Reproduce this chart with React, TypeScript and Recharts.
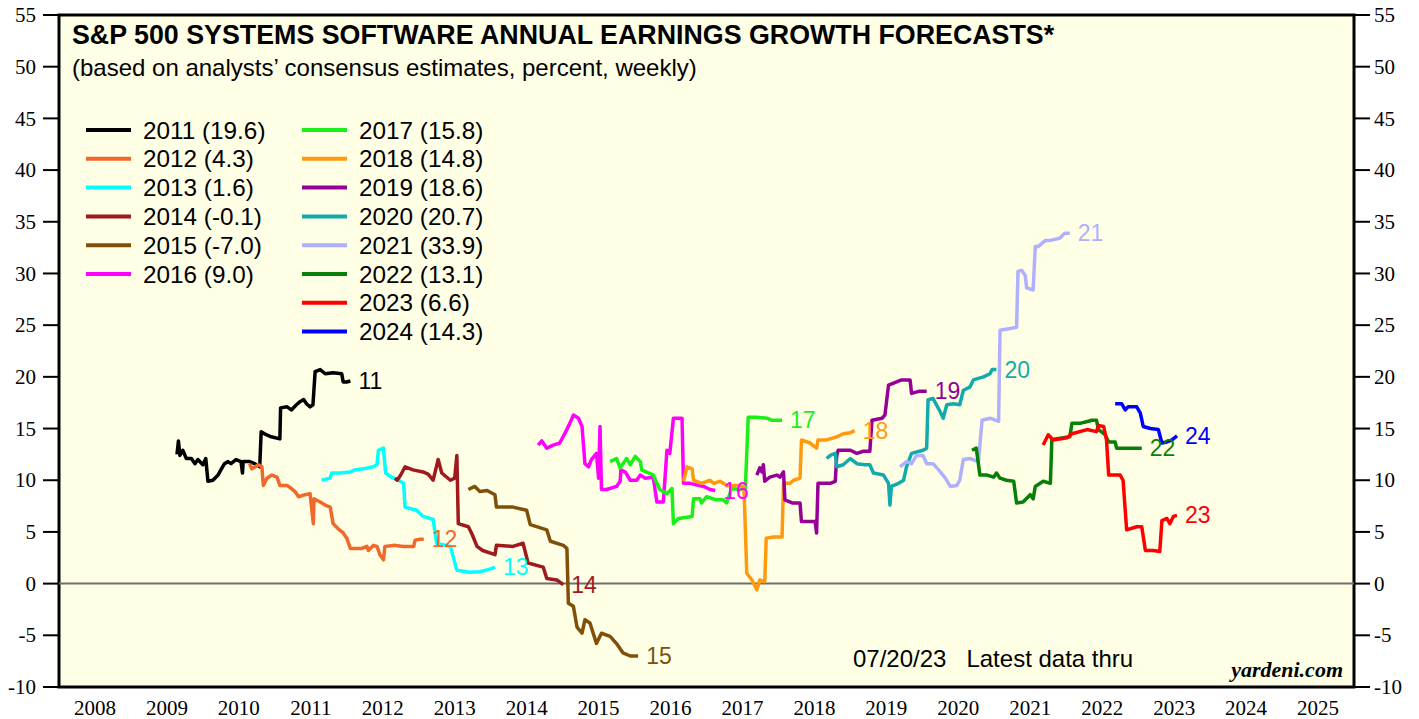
import React from 'react';
import {
  LineChart,
  Line,
  XAxis,
  YAxis,
  CartesianGrid,
  ReferenceLine,
  ReferenceArea,
} from 'recharts';

// weekly consensus growth forecasts, [decimal year, percent]
const s2011: [number, number][] = [
  [2009.64, 12.5], [2009.66, 13.8], [2009.68, 12.4], [2009.72, 12.9], [2009.77, 12.1], [2009.84, 12.1],
  [2009.89, 11.6], [2009.93, 12.0], [2010.0, 11.5], [2010.04, 12.1], [2010.07, 9.9], [2010.14, 10.0],
  [2010.21, 10.5], [2010.25, 11.0], [2010.3, 11.6], [2010.35, 11.8], [2010.39, 11.6], [2010.46, 12.0],
  [2010.53, 11.8], [2010.55, 10.7], [2010.56, 11.8], [2010.65, 11.8], [2010.72, 11.6], [2010.79, 11.3],
  [2010.81, 14.7], [2010.88, 14.4], [2010.95, 14.2], [2011.07, 14.0], [2011.08, 17.0], [2011.17, 17.1],
  [2011.23, 16.8], [2011.3, 17.3], [2011.35, 17.6], [2011.4, 17.8], [2011.44, 17.4], [2011.49, 17.1],
  [2011.53, 17.3], [2011.56, 20.5], [2011.63, 20.7], [2011.7, 20.3], [2011.81, 20.4], [2011.93, 20.3],
  [2011.95, 19.5], [2012.0, 19.5], [2012.05, 19.6],
];

const s2012: [number, number][] = [
  [2010.65, 11.6], [2010.68, 11.1], [2010.77, 11.5], [2010.82, 11.3], [2010.84, 9.5], [2010.89, 10.2],
  [2010.96, 10.5], [2011.03, 10.3], [2011.07, 9.5], [2011.17, 9.5], [2011.23, 9.2], [2011.28, 8.9],
  [2011.33, 8.4], [2011.42, 8.6], [2011.49, 8.7], [2011.535, 5.8], [2011.545, 8.2], [2011.63, 7.9],
  [2011.7, 7.6], [2011.77, 7.4], [2011.81, 5.8], [2011.88, 5.3], [2011.95, 4.9], [2012.0, 4.4],
  [2012.05, 3.4], [2012.11, 3.4], [2012.21, 3.4], [2012.28, 3.6], [2012.3, 3.2], [2012.37, 3.7],
  [2012.42, 3.6], [2012.46, 2.8], [2012.51, 2.3], [2012.53, 3.6], [2012.65, 3.7], [2012.79, 3.6],
  [2012.93, 3.6], [2012.95, 4.2], [2013.02, 4.3], [2013.07, 4.3],
];

const s2013: [number, number][] = [
  [2011.65, 10.0], [2011.77, 10.2], [2011.79, 10.7], [2011.91, 10.7], [2012.05, 10.8], [2012.11, 11.0],
  [2012.23, 11.1], [2012.37, 11.3], [2012.42, 11.5], [2012.44, 12.9], [2012.51, 13.1], [2012.54, 10.7],
  [2012.62, 10.3], [2012.72, 10.0], [2012.79, 9.7], [2012.81, 7.4], [2012.97, 7.1], [2013.06, 6.5],
  [2013.2, 6.2], [2013.25, 3.9], [2013.44, 3.6], [2013.53, 1.3], [2013.71, 1.1], [2013.85, 1.15],
  [2013.99, 1.4], [2014.06, 1.6],
];

const s2014: [number, number][] = [
  [2012.67, 10.2], [2012.7, 10.0], [2012.75, 10.5], [2012.81, 11.3], [2012.92, 11.0], [2013.06, 10.8],
  [2013.13, 10.6], [2013.2, 10.0], [2013.27, 12.0], [2013.32, 10.7], [2013.44, 10.0], [2013.5, 10.2],
  [2013.53, 12.4], [2013.55, 5.8], [2013.69, 5.5], [2013.74, 4.8], [2013.81, 3.6], [2013.89, 3.2],
  [2014.06, 2.8], [2014.08, 3.7], [2014.31, 3.6], [2014.45, 3.9], [2014.52, 2.0], [2014.73, 1.6],
  [2014.78, 0.5], [2014.92, 0.35], [2015.01, -0.1],
];

const s2015: [number, number][] = [
  [2013.69, 9.1], [2013.78, 9.4], [2013.85, 8.9], [2013.95, 9.0], [2014.06, 8.6], [2014.08, 7.4],
  [2014.31, 7.4], [2014.5, 7.1], [2014.55, 5.7], [2014.78, 5.2], [2014.83, 4.1], [2015.01, 3.7],
  [2015.06, 3.4], [2015.08, -1.9], [2015.15, -2.2], [2015.2, -4.2], [2015.27, -4.8], [2015.31, -3.5],
  [2015.38, -3.8], [2015.47, -5.8], [2015.54, -4.8], [2015.66, -5.1], [2015.75, -5.8], [2015.84, -6.7],
  [2015.94, -7.0], [2016.05, -7.0],
];

const s2016: [number, number][] = [
  [2014.66, 13.4], [2014.71, 13.8], [2014.78, 13.1], [2014.87, 13.4], [2014.96, 13.6], [2015.03, 14.5],
  [2015.1, 15.5], [2015.15, 16.3], [2015.22, 16.0], [2015.27, 15.2], [2015.31, 11.6], [2015.36, 11.3],
  [2015.4, 12.0], [2015.47, 12.6], [2015.5, 10.2], [2015.52, 15.2], [2015.54, 9.1], [2015.61, 9.1],
  [2015.75, 9.4], [2015.8, 9.9], [2015.81, 11.0], [2015.87, 10.8], [2015.94, 10.0], [2016.03, 10.0],
  [2016.08, 10.5], [2016.15, 10.2], [2016.26, 10.3], [2016.31, 7.9], [2016.4, 7.9], [2016.45, 12.9],
  [2016.49, 12.6], [2016.54, 16.0], [2016.66, 16.0], [2016.68, 9.7], [2016.77, 9.7], [2016.96, 9.4],
  [2017.05, 9.1], [2017.12, 9.0],
];

const s2017: [number, number][] = [
  [2015.66, 11.8], [2015.75, 12.1], [2015.8, 11.2], [2015.89, 12.1], [2015.94, 11.5], [2016.01, 12.3],
  [2016.08, 11.8], [2016.1, 11.0], [2016.26, 10.5], [2016.35, 9.1], [2016.45, 8.7], [2016.52, 9.2],
  [2016.54, 5.8], [2016.61, 6.3], [2016.8, 6.5], [2016.82, 8.2], [2016.91, 8.2], [2016.93, 7.8],
  [2017.0, 8.4], [2017.14, 8.1], [2017.23, 8.1], [2017.28, 7.8], [2017.35, 9.2], [2017.47, 9.1],
  [2017.54, 9.2], [2017.58, 16.1], [2017.7, 16.1], [2017.84, 16.0], [2017.91, 15.8], [2018.05, 15.8],
];

const s2018: [number, number][] = [
  [2016.68, 9.9], [2016.73, 11.3], [2016.8, 11.1], [2016.82, 10.0], [2016.93, 9.7], [2017.05, 10.0],
  [2017.1, 9.7], [2017.19, 9.9], [2017.28, 9.5], [2017.42, 9.5], [2017.52, 9.4], [2017.56, 1.0],
  [2017.63, 0.35], [2017.7, -0.6], [2017.74, 0.35], [2017.81, 0.2], [2017.83, 4.4], [2017.93, 4.5],
  [2018.05, 4.5], [2018.07, 9.7], [2018.16, 9.7], [2018.21, 10.0], [2018.3, 10.2], [2018.32, 13.9],
  [2018.44, 13.6], [2018.53, 13.1], [2018.55, 13.9], [2018.67, 13.9], [2018.81, 14.2], [2018.9, 14.5],
  [2019.0, 14.6], [2019.06, 14.8],
];

const s2019: [number, number][] = [
  [2017.7, 10.5], [2017.74, 11.2], [2017.77, 10.8], [2017.79, 11.5], [2017.81, 9.9], [2017.88, 10.3],
  [2017.98, 10.5], [2018.02, 10.3], [2018.07, 10.8], [2018.09, 8.1], [2018.19, 7.8], [2018.3, 7.8],
  [2018.32, 6.0], [2018.51, 6.0], [2018.53, 4.9], [2018.55, 9.7], [2018.72, 9.7], [2018.79, 9.9],
  [2018.81, 12.4], [2018.83, 12.9], [2019.0, 12.9], [2019.09, 12.6], [2019.18, 12.8], [2019.27, 12.8],
  [2019.3, 15.8], [2019.44, 16.0], [2019.48, 16.3], [2019.53, 19.2], [2019.6, 19.4], [2019.71, 19.7],
  [2019.83, 19.7], [2019.85, 18.4], [2019.95, 18.6], [2020.06, 18.6],
];

const s2020: [number, number][] = [
  [2018.67, 12.1], [2018.72, 12.4], [2018.79, 12.6], [2018.81, 11.3], [2018.9, 11.5], [2019.0, 12.1],
  [2019.09, 11.6], [2019.2, 11.5], [2019.27, 11.5], [2019.32, 10.7], [2019.46, 10.5], [2019.53, 9.7],
  [2019.55, 7.6], [2019.57, 9.4], [2019.67, 9.7], [2019.74, 10.0], [2019.78, 11.3], [2019.85, 12.6],
  [2020.01, 12.9], [2020.06, 13.1], [2020.08, 17.8], [2020.15, 17.9], [2020.25, 16.6], [2020.29, 16.0],
  [2020.34, 17.3], [2020.43, 17.4], [2020.52, 17.3], [2020.57, 18.7], [2020.66, 19.0], [2020.71, 19.7],
  [2020.85, 20.0], [2020.94, 20.3], [2020.97, 20.7], [2021.03, 20.7],
];

const s2021: [number, number][] = [
  [2019.69, 11.3], [2019.78, 11.8], [2019.85, 11.6], [2019.92, 12.4], [2020.01, 12.4], [2020.06, 11.6],
  [2020.15, 11.6], [2020.25, 10.8], [2020.32, 10.2], [2020.39, 9.4], [2020.48, 9.5], [2020.52, 10.0],
  [2020.57, 12.0], [2020.66, 12.1], [2020.78, 11.8], [2020.83, 15.8], [2020.94, 16.0], [2021.06, 15.7],
  [2021.08, 24.5], [2021.24, 24.7], [2021.31, 24.8], [2021.33, 30.2], [2021.38, 30.3], [2021.43, 29.8],
  [2021.45, 28.6], [2021.54, 28.4], [2021.57, 32.6], [2021.61, 32.6], [2021.71, 33.2], [2021.78, 33.2],
  [2021.91, 33.4], [2021.98, 33.9], [2022.05, 33.9],
];

const s2022: [number, number][] = [
  [2020.69, 12.9], [2020.75, 13.1], [2020.8, 10.5], [2020.9, 10.5], [2020.99, 10.3], [2021.03, 10.7],
  [2021.08, 10.2], [2021.17, 10.0], [2021.27, 9.9], [2021.31, 7.8], [2021.4, 7.9], [2021.5, 8.6],
  [2021.54, 8.2], [2021.57, 9.4], [2021.68, 9.9], [2021.78, 9.7], [2021.8, 13.9], [2021.85, 14.0],
  [2022.05, 14.2], [2022.08, 15.5], [2022.19, 15.5], [2022.31, 15.7], [2022.35, 15.8], [2022.42, 15.8],
  [2022.45, 14.9], [2022.54, 14.4], [2022.59, 13.7], [2022.68, 13.7], [2022.7, 13.1], [2022.84, 13.1],
  [2023.05, 13.1],
];

const s2023: [number, number][] = [
  [2021.68, 13.4], [2021.75, 14.4], [2021.82, 13.9], [2022.01, 14.1], [2022.08, 14.5], [2022.29, 14.9],
  [2022.42, 14.7], [2022.45, 15.3], [2022.52, 15.2], [2022.56, 13.9], [2022.59, 10.5], [2022.75, 10.5],
  [2022.79, 10.0], [2022.84, 5.2], [2022.98, 5.5], [2023.05, 5.5], [2023.1, 3.2], [2023.21, 3.2],
  [2023.3, 3.1], [2023.33, 6.1], [2023.4, 6.3], [2023.44, 5.8], [2023.49, 6.5], [2023.54, 6.6],
];

const s2024: [number, number][] = [
  [2022.68, 17.4], [2022.77, 17.4], [2022.82, 16.8], [2022.86, 17.1], [2022.98, 17.1], [2023.03, 16.5],
  [2023.07, 15.2], [2023.17, 15.0], [2023.28, 14.9], [2023.33, 13.6], [2023.4, 13.7], [2023.47, 13.9],
  [2023.54, 14.3],
];

const yearTicks = [2008, 2009, 2010, 2011, 2012, 2013, 2014, 2015, 2016, 2017, 2018, 2019, 2020, 2021, 2022, 2023, 2024, 2025, 2026];
const yearLabelTicks = yearTicks.slice(0, -1).map((y) => y + 0.5);
const valueTicks = [-10, -5, 0, 5, 10, 15, 20, 25, 30, 35, 40, 45, 50, 55];

const SERIES = [
  { name: '2011', tag: '11', color: '#000000', data: s2011 },
  { name: '2012', tag: '12', color: '#F0692A', data: s2012 },
  { name: '2013', tag: '13', color: '#00FFFF', data: s2013 },
  { name: '2014', tag: '14', color: '#A0191E', data: s2014 },
  { name: '2015', tag: '15', color: '#80500A', data: s2015 },
  { name: '2016', tag: '16', color: '#FF00FF', data: s2016 },
  { name: '2017', tag: '17', color: '#19F019', data: s2017 },
  { name: '2018', tag: '18', color: '#FF9A0F', data: s2018 },
  { name: '2019', tag: '19', color: '#960096', data: s2019 },
  { name: '2020', tag: '20', color: '#12AAAA', data: s2020 },
  { name: '2021', tag: '21', color: '#B0B0FF', data: s2021 },
  { name: '2022', tag: '22', color: '#087F08', data: s2022 },
  { name: '2023', tag: '23', color: '#FF0000', data: s2023 },
  { name: '2024', tag: '24', color: '#0000FF', data: s2024 },
];

const SANS = '"Liberation Sans", Arial, Helvetica, sans-serif';
const SERIF = '"Liberation Serif", "Times New Roman", serif';

const W = 1419;
const H = 719;

const endLabel = (s: (typeof SERIES)[number]) => (props: any) => {
  const { cx, cy, index } = props;
  if (index !== s.data.length - 1) return <g key={`d-${s.name}-${index}`} />;
  return (
    <text key={`d-${s.name}-${index}`} x={cx + 8} y={cy + 8} fill={s.color} fontSize={23} fontFamily={SANS}>
      {s.tag}
    </text>
  );
};

const LeftTick = (props: any) => (
  <text x={props.x} y={props.y} dy="0.34em" textAnchor="end" fontSize={21} fontFamily={SERIF} fill="#000">
    {props.payload.value}
  </text>
);

const RightTick = (props: any) => (
  <text x={props.x} y={props.y} dy="0.34em" textAnchor="start" fontSize={21} fontFamily={SERIF} fill="#000">
    {props.payload.value}
  </text>
);

const YearTick = (props: any) => (
  <text x={props.x} y={props.y} dy="0.7em" textAnchor="middle" fontSize={21} fontFamily={SERIF} fill="#000">
    {Math.floor(props.payload.value)}
  </text>
);

const Legend: React.FC = () => {
  const rowH = 28.8;
  return (
    <g>
      {SERIES.map((s, i) => {
        const col = i < 6 ? 0 : 1;
        const row = col === 0 ? i : i - 6;
        const lx = col === 0 ? 86 : 302;
        const y = 130 + row * rowH;
        const last = s.data[s.data.length - 1][1];
        return (
          <g key={s.name}>
            <line x1={lx} x2={lx + 45} y1={y} y2={y} stroke={s.color} strokeWidth={4} />
            <text x={lx + 57} y={y + 8.5} fontSize={24.3} fontFamily={SANS} fill="#000">
              {`${s.name} (${last.toFixed(1)})`}
            </text>
          </g>
        );
      })}
    </g>
  );
};

const App: React.FC = () => {
  return (
    <div style={{ position: 'absolute', left: 0, top: 0, width: W, height: H, background: '#fff', overflow: 'hidden' }}>
      <LineChart width={W} height={H} margin={{ top: 15, right: 0, bottom: 0, left: 0 }}>
        <CartesianGrid xAxisId="x" yAxisId="left" horizontal={false} vertical={false} fill="#FFFFE6" />
        <XAxis
          xAxisId="x"
          dataKey="t"
          type="number"
          domain={[2008, 2026]}
          ticks={yearTicks}
          interval={0}
          allowDataOverflow
          height={0}
          axisLine={false}
          tickSize={16}
          tickLine={{ stroke: '#000', strokeWidth: 3 }}
          tickFormatter={() => ''}
        />
        <XAxis
          xAxisId="lbl"
          dataKey="t"
          type="number"
          domain={[2008, 2026]}
          ticks={yearLabelTicks}
          interval={0}
          allowDataOverflow
          height={32}
          axisLine={false}
          tickLine={false}
          tickSize={0}
          tickMargin={13}
          tick={<YearTick />}
        />
        <YAxis
          yAxisId="left"
          type="number"
          domain={[-10, 55]}
          ticks={valueTicks}
          interval={0}
          allowDataOverflow
          width={59}
          axisLine={false}
          tickSize={16}
          tickMargin={7}
          tickLine={{ stroke: '#000', strokeWidth: 2 }}
          tick={<LeftTick />}
        />
        <YAxis
          yAxisId="right"
          orientation="right"
          type="number"
          domain={[-10, 55]}
          ticks={valueTicks}
          interval={0}
          allowDataOverflow
          width={65}
          axisLine={false}
          tickSize={16}
          tickMargin={4}
          tickLine={{ stroke: '#000', strokeWidth: 2 }}
          tick={<RightTick />}
        />
        <ReferenceLine xAxisId="x" yAxisId="left" y={0} stroke="#6E6E6E" strokeWidth={2} />
        {SERIES.map((s) => (
          <Line
            key={s.name}
            xAxisId="x"
            yAxisId="left"
            data={s.data.map(([t, v]) => ({ t, v }))}
            dataKey="v"
            type="linear"
            stroke={s.color}
            strokeWidth={3.5}
            strokeLinejoin="round"
            dot={endLabel(s)}
            activeDot={false}
            isAnimationActive={false}
          />
        ))}
        <ReferenceArea
          xAxisId="x"
          yAxisId="left"
          x1={2008}
          x2={2026}
          y1={-10}
          y2={55}
          fill="none"
          stroke="#000"
          strokeWidth={3}
          ifOverflow="visible"
        />
      </LineChart>
      <svg width={W} height={H} style={{ position: 'absolute', left: 0, top: 0, pointerEvents: 'none' }}>
        <text x={72} y={44} fontSize={26.8} fontWeight="bold" fontFamily={SANS} fill="#000">
          S&amp;P 500 SYSTEMS SOFTWARE ANNUAL EARNINGS GROWTH FORECASTS*
        </text>
        <text x={72} y={76} fontSize={24} fontFamily={SANS} fill="#000">
          (based on analysts’ consensus estimates, percent, weekly)
        </text>
        <Legend />
        <text x={853} y={667} fontSize={24} fontFamily={SANS} fill="#000" style={{ whiteSpace: 'pre' }}>
          {'07/20/23   Latest data thru'}
        </text>
        <text x={1343} y={677} fontSize={22} fontWeight="bold" fontStyle="italic" fontFamily={SERIF} fill="#000" textAnchor="end">
          yardeni.com
        </text>
      </svg>
    </div>
  );
};

export default App;
